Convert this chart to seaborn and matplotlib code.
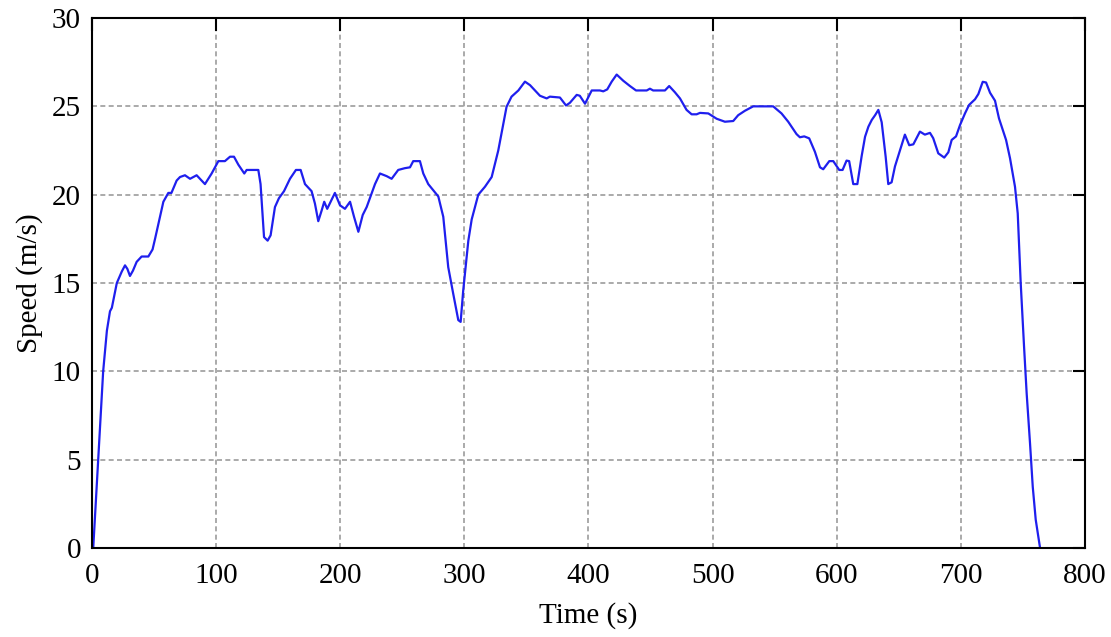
import pandas as pd
import matplotlib
matplotlib.use("Agg")
import matplotlib.pyplot as plt
import seaborn as sns

# speed trace
time_s = [1, 5, 9, 12, 14.5, 16, 20, 24, 26.6, 28.5, 30.6, 33, 36, 40, 45.4,
          48.8, 50.8, 54.8, 57.5, 61.5, 64, 68.2, 70.9, 74.9, 79, 84.3, 87, 91,
          96.4, 101.8, 107.1, 111.2, 114.4, 117.9, 122.7, 124.6, 134, 135.8,
          138.6, 141.5, 143.9, 147.4, 150.6, 154.7, 159.5, 164.3, 168.1, 171.6,
          176.9, 179.6, 182.3, 185, 187.1, 189.5, 195.7, 199.8, 203.8, 207.9,
          211.1, 214.6, 218.1, 221.3, 228, 232, 237.4, 241.4, 246.7, 252, 256.2,
          258.8, 264.2, 266.9, 270.9, 279, 283, 287, 291, 295.1, 297, 299.1,
          303.2, 305.9, 311.2, 316.6, 322, 327.3, 334, 338, 343.5, 348.8, 352.9,
          356.9, 360.9, 366.3, 368.9, 377, 381.9, 385, 390.5, 393, 397.2, 402.6,
          409.2, 411.9, 415.1, 418.7, 422.7, 428, 433.4, 438.3, 446.9, 449.5,
          452.1, 461.6, 465, 469.6, 473.7, 479, 483.1, 487.1, 489.8, 496.5,
          503.2, 509.9, 516.6, 520.6, 526, 532.7, 548.8, 555.5, 560.9, 567.6,
          570.3, 573.8, 577.8, 582.4, 586.5, 589.1, 594, 597.2, 602, 604.7,
          607.9, 610, 613.3, 616.6, 620.1, 622.8, 625.5, 628.2, 630.9, 633.5,
          636.2, 639.4, 641.5, 644.2, 646.9, 650.9, 654.9, 658.4, 661.7, 667,
          671, 675.1, 677.7, 681.8, 686.6, 689.9, 692.6, 696.1, 699.3, 703.3,
          706.6, 711.4, 714.1, 717.6, 720.3, 723.5, 727.5, 730.7, 736.4, 739.6,
          743.6, 745.8, 748.2, 750.9, 753, 755.7, 757.9, 760.3, 763.8]
speed_ms = [0, 5.0, 10.0, 12.3, 13.4, 13.6, 15.0, 15.65, 16.0, 15.8, 15.4, 15.7,
            16.2, 16.5, 16.5, 16.9, 17.5, 18.75, 19.6, 20.1, 20.1, 20.8, 21.0,
            21.1, 20.9, 21.1, 20.9, 20.6, 21.2, 21.9, 21.9, 22.15, 22.15, 21.7,
            21.2, 21.4, 21.4, 20.6, 17.6, 17.4, 17.7, 19.3, 19.8, 20.2, 20.9,
            21.4, 21.4, 20.6, 20.2, 19.5, 18.5, 19.1, 19.6, 19.2, 20.1, 19.4,
            19.2, 19.6, 18.75, 17.9, 18.85, 19.3, 20.6, 21.2, 21.05, 20.9, 21.4,
            21.5, 21.55, 21.9, 21.9, 21.2, 20.6, 19.9, 18.75, 15.9, 14.4, 12.9,
            12.8, 14.6, 17.4, 18.6, 20.0, 20.45, 21.0, 22.5, 24.98, 25.55, 25.9,
            26.4, 26.2, 25.9, 25.6, 25.45, 25.55, 25.5, 25.05, 25.2, 25.65, 25.6,
            25.15, 25.9, 25.9, 25.85, 25.96, 26.4, 26.8, 26.45, 26.15, 25.9, 25.9,
            26.0, 25.9, 25.9, 26.15, 25.8, 25.45, 24.8, 24.55, 24.55, 24.63, 24.6,
            24.3, 24.13, 24.17, 24.5, 24.75, 25.0, 25.0, 24.6, 24.13, 23.43,
            23.25, 23.3, 23.19, 22.43, 21.55, 21.44, 21.9, 21.9, 21.4, 21.4,
            21.93, 21.9, 20.6, 20.6, 22.2, 23.28, 23.85, 24.23, 24.5, 24.8, 24.1,
            22.15, 20.6, 20.7, 21.6, 22.5, 23.4, 22.8, 22.85, 23.57, 23.4, 23.5,
            23.2, 22.34, 22.1, 22.4, 23.1, 23.3, 23.94, 24.6, 25.08, 25.4, 25.7,
            26.39, 26.35, 25.77, 25.32, 24.32, 23.1, 22.06, 20.45, 18.94, 15.0,
            11.4, 8.75, 5.93, 3.47, 1.6, 0]

x_ticks = [0, 100, 200, 300, 400, 500, 600, 700, 800]
y_ticks = [0, 5, 10, 15, 20, 25, 30]

df = pd.DataFrame({"time": time_s, "speed": speed_ms})

sns.set_style("white")
plt.rcParams["font.family"] = ["Liberation Serif", "DejaVu Serif"]
plt.rcParams["text.color"] = "black"
plt.rcParams["axes.labelcolor"] = "black"
plt.rcParams["xtick.color"] = "black"
plt.rcParams["ytick.color"] = "black"

fig = plt.figure(figsize=(11.11, 6.37), dpi=100)
ax = fig.add_axes([0.0828, 0.1397, 0.9766 - 0.0828, 0.9717 - 0.1397])

sns.lineplot(data=df, x="time", y="speed", sort=False, estimator=None,
             color="#1f1fee", linewidth=1.6, ax=ax)

ax.set_xlim(0, 800)
ax.set_ylim(0, 30)
ax.set_xticks(x_ticks)
ax.set_yticks(y_ticks)
ax.grid(True, color="#9c9c9c", linestyle=(0, (3, 2)), linewidth=1.2)
ax.tick_params(direction="in", length=9, width=1.5, top=True, right=True,
               labelsize=21, colors="black")
ax.tick_params(axis="x", pad=11)
ax.tick_params(axis="y", pad=8)
for sp in ax.spines.values():
    sp.set_linewidth(1.5)
    sp.set_color("black")

ax.set_xlabel("Time (s)", fontsize=21, labelpad=9)
ax.set_ylabel("Speed (m/s)", fontsize=21, labelpad=6)

fig.savefig("out.png", dpi=100)
